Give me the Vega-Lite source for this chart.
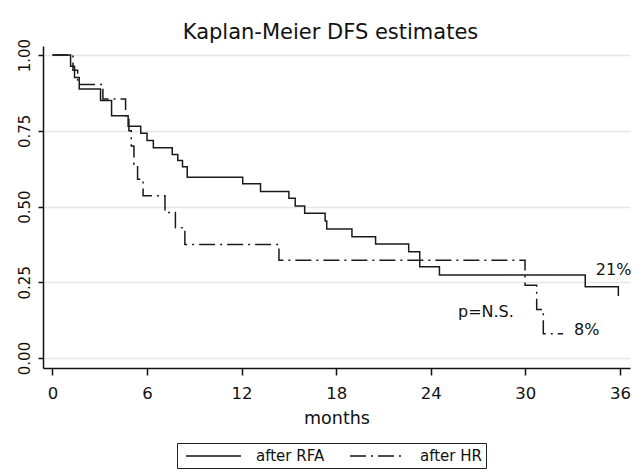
{
  "$schema": "https://vega.github.io/schema/vega-lite/v6.json",
  "width": 587,
  "height": 322,
  "autosize": {"type": "none"},
  "padding": {"left": 43, "top": 46, "right": 3, "bottom": 104},
  "background": "white",
  "config": {"view": {"stroke": null}, "font": "DejaVu Sans"},
  "title": {"text": "Kaplan-Meier DFS estimates", "frame": "group", "anchor": "middle", "fontSize": 21, "fontWeight": "normal", "baseline": "alphabetic", "offset": 6, "dx": -6, "dy": 28, "color": "#111"},
  "datasets": {
    "km": [
      {"group": "after RFA", "t": 0, "s": 1},
      {"group": "after RFA", "t": 1.15, "s": 0.963},
      {"group": "after RFA", "t": 1.4, "s": 0.926},
      {"group": "after RFA", "t": 1.7, "s": 0.888},
      {"group": "after RFA", "t": 3.05, "s": 0.85},
      {"group": "after RFA", "t": 3.75, "s": 0.8},
      {"group": "after RFA", "t": 4.8, "s": 0.765},
      {"group": "after RFA", "t": 5.6, "s": 0.742},
      {"group": "after RFA", "t": 6.0, "s": 0.718},
      {"group": "after RFA", "t": 6.4, "s": 0.694},
      {"group": "after RFA", "t": 7.6, "s": 0.672},
      {"group": "after RFA", "t": 7.95, "s": 0.652},
      {"group": "after RFA", "t": 8.25, "s": 0.631},
      {"group": "after RFA", "t": 8.55, "s": 0.597},
      {"group": "after RFA", "t": 12.07, "s": 0.575},
      {"group": "after RFA", "t": 13.2, "s": 0.55},
      {"group": "after RFA", "t": 15.0, "s": 0.527},
      {"group": "after RFA", "t": 15.4, "s": 0.502},
      {"group": "after RFA", "t": 16.0, "s": 0.478},
      {"group": "after RFA", "t": 17.3, "s": 0.452},
      {"group": "after RFA", "t": 17.4, "s": 0.426},
      {"group": "after RFA", "t": 19.0, "s": 0.4},
      {"group": "after RFA", "t": 20.5, "s": 0.376},
      {"group": "after RFA", "t": 22.6, "s": 0.351},
      {"group": "after RFA", "t": 23.3, "s": 0.301},
      {"group": "after RFA", "t": 24.55, "s": 0.274},
      {"group": "after RFA", "t": 33.8, "s": 0.235},
      {"group": "after RFA", "t": 35.9, "s": 0.205},
      {"group": "after HR", "t": 0, "s": 1},
      {"group": "after HR", "t": 1.3, "s": 0.95},
      {"group": "after HR", "t": 1.6, "s": 0.903},
      {"group": "after HR", "t": 3.2, "s": 0.855},
      {"group": "after HR", "t": 4.64, "s": 0.8},
      {"group": "after HR", "t": 4.85, "s": 0.75},
      {"group": "after HR", "t": 5.0, "s": 0.7},
      {"group": "after HR", "t": 5.17, "s": 0.64},
      {"group": "after HR", "t": 5.4, "s": 0.59},
      {"group": "after HR", "t": 5.75, "s": 0.536},
      {"group": "after HR", "t": 7.14, "s": 0.48},
      {"group": "after HR", "t": 7.8, "s": 0.43},
      {"group": "after HR", "t": 8.4, "s": 0.375},
      {"group": "after HR", "t": 14.37, "s": 0.323},
      {"group": "after HR", "t": 29.98, "s": 0.24},
      {"group": "after HR", "t": 30.72, "s": 0.16},
      {"group": "after HR", "t": 31.14, "s": 0.08},
      {"group": "after HR", "t": 32.4, "s": 0.08}
    ],
    "notes": [
      {"t": 35.6, "s": 0.29, "label": "21%"},
      {"t": 33.9, "s": 0.092, "label": "8%"},
      {"t": 27.5, "s": 0.153, "label": "p=N.S."}
    ]
  },
  "layer": [
    {
      "data": {"name": "km"},
      "mark": {"type": "line", "interpolate": "step-after", "strokeWidth": 1.5, "color": "#1a1a1a"},
      "encoding": {
        "x": {
          "field": "t", "type": "quantitative", "title": "months",
          "scale": {"domain": [-0.6, 36.64], "nice": false, "zero": false},
          "axis": {"values": [0, 6, 12, 18, 24, 30, 36], "grid": false, "domainColor": "#111", "domainWidth": 1.5, "tickColor": "#111", "tickSize": 7, "tickWidth": 1.5, "labelFontSize": 16.5, "labelPadding": 10, "labelColor": "#111", "titleFontSize": 17.5, "titleFontWeight": "normal", "titlePadding": 8, "titleColor": "#111"}
        },
        "y": {
          "field": "s", "type": "quantitative", "title": null,
          "scale": {"domain": [-0.033, 1.03], "nice": false, "zero": false},
          "axis": {"values": [0, 0.25, 0.5, 0.75, 1], "format": ".2f", "grid": true, "gridColor": "#e6e6e6", "gridWidth": 1.5, "labelAngle": -90, "labelAlign": "center", "labelBaseline": "bottom", "labelPadding": 6, "labelFontSize": 15, "labelColor": "#111", "tickSize": 5, "tickColor": "#111", "tickWidth": 1.5, "domainColor": "#111", "domainWidth": 1.5}
        },
        "strokeDash": {
          "field": "group", "type": "nominal",
          "scale": {"domain": ["after RFA", "after HR"], "range": [[1, 0], [16, 5, 2, 5]]},
          "legend": {"orient": "none", "legendX": 134, "legendY": 397, "direction": "horizontal", "title": null, "strokeColor": "#222", "fillColor": "white", "padding": 4, "symbolType": "M-0.5,0H6.375", "symbolSize": 256, "symbolStrokeWidth": 1.4, "symbolStrokeColor": "#111", "labelFontSize": 15, "labelColor": "#111", "labelOffset": 57, "columnPadding": 20}
        }
      }
    },
    {
      "data": {"name": "notes"},
      "mark": {"type": "text", "fontSize": 16, "color": "#111"},
      "encoding": {
        "x": {"field": "t", "type": "quantitative"},
        "y": {"field": "s", "type": "quantitative"},
        "text": {"field": "label"}
      }
    }
  ]
}
